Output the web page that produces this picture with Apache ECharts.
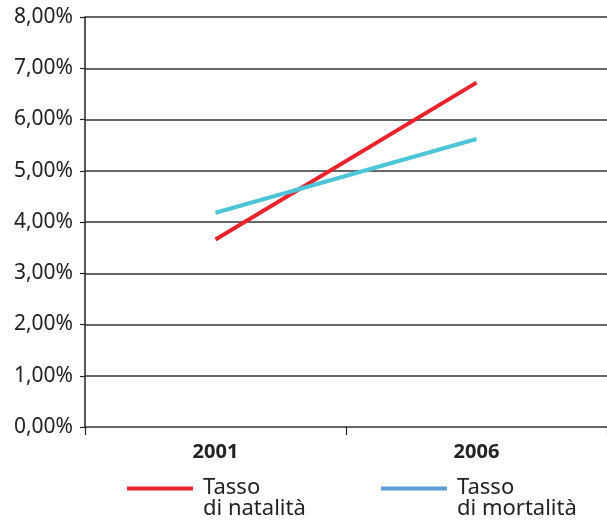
<!DOCTYPE html>
<html>
<head>
<meta charset="utf-8">
<script src="https://cdn.jsdelivr.net/npm/echarts@6/dist/echarts.min.js"></script>
<style>
  html, body { margin: 0; padding: 0; background: #fff; }
  #chart { width: 607px; height: 520px; }
</style>
</head>
<body>
<div id="chart"></div>
<script>
// Birth and death rates, 2001 vs 2006 (percent)
const years = ['2001', '2006'];
const natalita = [3.66, 6.72];
const mortalita = [4.18, 5.62];
const yTicks = [0, 1, 2, 3, 4, 5, 6, 7, 8];

const FONT = '"Noto Sans", "Open Sans", sans-serif';
const RED = '#e8232b';
const CYAN = '#4ec4d9';
const LEGEND_BLUE = '#5f9bd6';

// Legend swatch: a 66x4 bar sitting at the top of a 71x24 box, so that
// the bar lines up with the first line of the two-line label.
const SWATCH = 'path://M0,0L66,0L66,4L0,4Z M71,24L71,24';

const chart = echarts.init(document.getElementById('chart'), null, { renderer: 'canvas' });

const legendText = {
  fontFamily: FONT,
  fontSize: 22,
  color: '#222',
  lineHeight: 21
};

function legendFor(name, color, left) {
  return {
    left: left, top: 477, padding: 0,
    icon: SWATCH, itemWidth: 71, itemHeight: 24, itemGap: 10,
    data: [{ name: name, itemStyle: { color: color, borderWidth: 0 } }],
    formatter: n => n.replace(' di', '\ndi'),
    textStyle: legendText
  };
}

chart.setOption({
  animation: false,
  backgroundColor: '#fff',
  grid: { left: 85, top: 17, width: 528, height: 410, containLabel: false },
  legend: [
    legendFor('Tasso di natalità', RED, 127),
    legendFor('Tasso di mortalità', LEGEND_BLUE, 381)
  ],
  xAxis: {
    type: 'category',
    data: years,
    boundaryGap: true,
    axisLine: { show: false },
    axisTick: { show: true, length: 8, inside: false, lineStyle: { color: '#222', width: 1.2 } },
    axisLabel: {
      fontFamily: FONT, fontSize: 20, fontWeight: 'bold', color: '#222', margin: 15
    },
    splitLine: { show: false }
  },
  yAxis: {
    type: 'value',
    min: yTicks[0],
    max: yTicks[yTicks.length - 1],
    interval: 1,
    axisLine: { show: true, onZero: false, lineStyle: { color: '#222', width: 1.5 } },
    axisTick: { show: true, length: 5, lineStyle: { color: '#222', width: 1.2 } },
    axisLabel: {
      fontFamily: FONT, fontSize: 21, color: '#222', margin: 12,
      formatter: v => v.toFixed(2).replace('.', ',') + '%'
    },
    splitLine: { show: true, lineStyle: { color: '#333', width: 1.5 } }
  },
  series: [
    {
      name: 'Tasso di natalità',
      type: 'line',
      data: natalita,
      symbol: 'none',
      lineStyle: { color: RED, width: 4 },
      itemStyle: { color: RED }
    },
    {
      name: 'Tasso di mortalità',
      type: 'line',
      data: mortalita,
      symbol: 'none',
      lineStyle: { color: CYAN, width: 4 },
      itemStyle: { color: CYAN }
    }
  ]
});
</script>
</body>
</html>
